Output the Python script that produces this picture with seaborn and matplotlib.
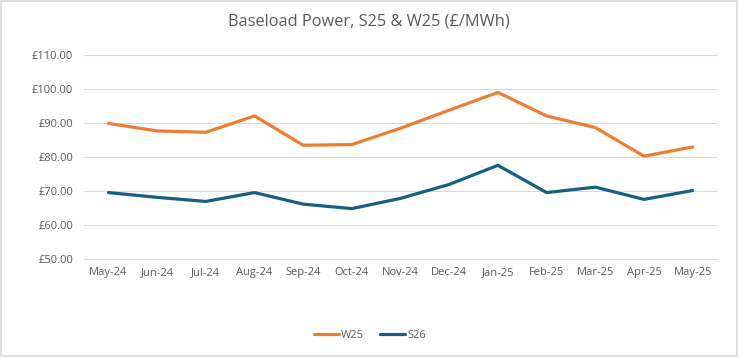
import pandas as pd
import matplotlib.pyplot as plt
import seaborn as sns
from matplotlib.ticker import FixedLocator, FuncFormatter

months = ['May-24', 'Jun-24', 'Jul-24', 'Aug-24', 'Sep-24', 'Oct-24', 'Nov-24',
          'Dec-24', 'Jan-25', 'Feb-25', 'Mar-25', 'Apr-25', 'May-25']
w25 = [89.8, 87.6, 87.2, 92.0, 83.4, 83.6, 88.4, 93.7, 98.9, 92.0, 88.6, 80.2, 82.9]
s26 = [69.5, 68.1, 66.9, 69.5, 66.1, 64.8, 67.8, 71.9, 77.5, 69.5, 71.1, 67.5, 70.1]

df = pd.DataFrame({'Month': months * 2,
                   'Price': w25 + s26,
                   'Series': ['W25'] * len(months) + ['S26'] * len(months)})

sns.set_style('white')
plt.rcParams['font.family'] = ['Open Sans', 'DejaVu Sans']

fig = plt.figure(figsize=(7.38, 3.57), dpi=100)
ax = fig.add_axes([0.114, 0.2745, 0.8575, 0.5725])

sns.lineplot(data=df, x='Month', y='Price', hue='Series',
             palette={'W25': '#ED7D31', 'S26': '#156082'},
             linewidth=2.3, ax=ax, sort=False)

ax.set_ylim(50, 110)
ax.set_yticks(range(50, 111, 10))
ax.yaxis.set_major_formatter(FuncFormatter(lambda v, p: f'£{v:.2f}'))
ax.set_xlim(-0.5, len(months) - 0.5)
ax.xaxis.set_minor_locator(FixedLocator([i - 0.5 for i in range(len(months) + 1)]))
ax.tick_params(axis='x', which='major', length=0, pad=6, labelsize=8, labelcolor='#595959')
ax.tick_params(axis='x', which='minor', length=4, color='#D9D9D9', width=0.8)
ax.tick_params(axis='y', length=0, labelsize=8, labelcolor='#595959', pad=8)
ax.grid(axis='y', color='#D9D9D9', linewidth=0.8)
ax.set_axisbelow(True)
for side in ['top', 'right', 'left']:
    ax.spines[side].set_visible(False)
ax.spines['bottom'].set_color('#D9D9D9')
ax.set_xlabel('')
ax.set_ylabel('')

leg = ax.legend(loc='center', ncol=2, frameon=False, fontsize=8, handlelength=2.2,
                handletextpad=0.2, columnspacing=1.5)
leg.set_bbox_to_anchor((370 / 738, 1 - 335 / 357), transform=fig.transFigure)
for t in leg.get_texts():
    t.set_color('#595959')

fig.text(0.5, 1 - 21 / 357, 'Baseload Power, S25 & W25 (£/MWh)', ha='center', va='center',
         fontsize=11.8, color='#595959')

fig.patches.append(plt.Rectangle((0.001, 0.002), 0.997, 0.996, transform=fig.transFigure,
                                 fill=False, edgecolor='#D9D9D9', linewidth=1.2))

fig.savefig('out.png', dpi=100)
